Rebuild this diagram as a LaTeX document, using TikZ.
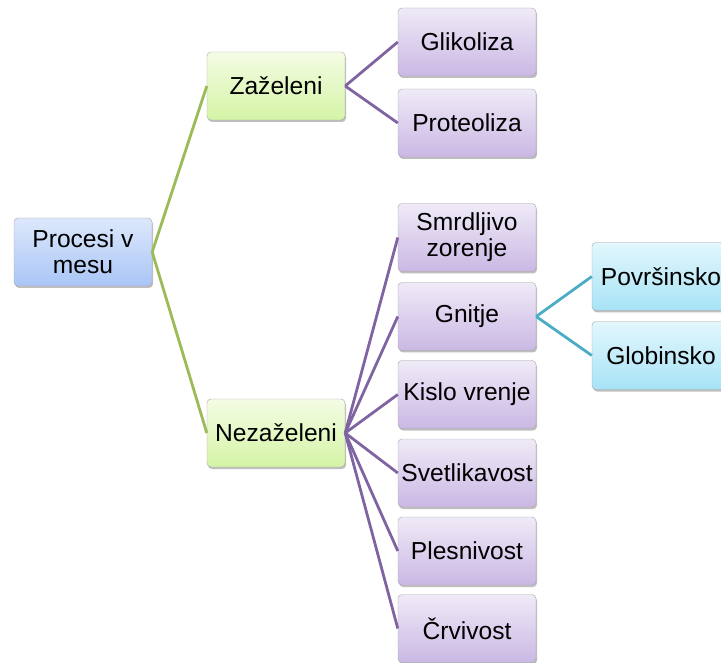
\documentclass[tikz,border=0pt]{standalone}
\usepackage{fontspec}
\setmainfont{Liberation Sans}
\usetikzlibrary{shadows}

\definecolor{rootTop}{HTML}{DDE8FC}
\definecolor{rootBot}{HTML}{A9C5F6}
\definecolor{greenTop}{HTML}{F4FCE4}
\definecolor{greenBot}{HTML}{D5F4A6}
\definecolor{purpTop}{HTML}{EFEAF7}
\definecolor{purpBot}{HTML}{CAB8E4}
\definecolor{cyanTop}{HTML}{E3F7FD}
\definecolor{cyanBot}{HTML}{A7E3F6}
\definecolor{lineGreen}{HTML}{9BBB59}
\definecolor{linePurp}{HTML}{8064A2}
\definecolor{lineCyan}{HTML}{4BACC6}

\begin{document}
\begin{tikzpicture}[
    x=1pt, y=-1pt,
    box/.style={draw=black!35, rounded corners=4pt, minimum width=138pt,
                minimum height=68pt, inner sep=0pt, align=center,
                font=\fontsize{24.6}{26}\selectfont,
                drop shadow={shadow xshift=1pt, shadow yshift=-2pt,
                             opacity=0.25, fill=black}},
    rootbox/.style={box, top color=rootTop, bottom color=rootBot},
    grnbox/.style={box, top color=greenTop, bottom color=greenBot},
    purbox/.style={box, top color=purpTop, bottom color=purpBot},
    cyabox/.style={box, top color=cyanTop, bottom color=cyanBot},
    link/.style={line width=2.8pt}
  ]
  \clip (0,0) rectangle (721,663);

  % Root
  \node[rootbox] (proc) at (83,252) {Procesi v\\mesu};

  % Second level
  \node[grnbox] (zaz) at (276,86) {Zaželeni};
  \node[grnbox] (nez) at (276,433) {Nezaželeni};
  \draw[link, lineGreen] (proc.east) -- (zaz.west);
  \draw[link, lineGreen] (proc.east) -- (nez.west);

  % Desired processes
  \node[purbox] (gli) at (467,42) {Glikoliza};
  \node[purbox] (pro) at (467,123) {Proteoliza};
  \foreach \c in {gli, pro}
    \draw[link, linePurp] (zaz.east) -- (\c.west);

  % Undesired processes
  \foreach \c/\t/\y in {
    smr/{Smrdljivo\\zorenje}/237.5,
    gni/Gnitje/316.5,
    kis/{Kislo vrenje}/394.5,
    sve/Svetlikavost/473,
    ple/Plesnivost/551,
    crv/Črvivost/628.5} {
    \node[purbox] (\c) at (467,\y) {\t};
    \draw[link, linePurp] (nez.east) -- (\c.west);
  }

  % Kinds of rotting
  \node[cyabox] (pov) at (661,276.5) {Površinsko};
  \node[cyabox] (glo) at (661,355.5) {Globinsko};
  \draw[link, lineCyan] (gni.east) -- (pov.west);
  \draw[link, lineCyan] (gni.east) -- (glo.west);
\end{tikzpicture}
\end{document}
